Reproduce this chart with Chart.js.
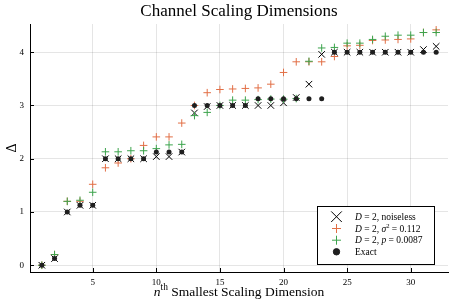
<!DOCTYPE html>
<html><head><meta charset="utf-8">
<script src="https://cdn.jsdelivr.net/npm/chart.js@4/dist/chart.umd.min.js"></script>
<style>html,body{margin:0;padding:0;background:#fff}#wrap{width:457px;height:305px;position:relative}</style>
</head><body><div id="wrap"><canvas id="c" width="457" height="305"></canvas></div>
<script>
// ---- data ----
const nIndex = [1,2,3,4,5,6,7,8,9,10,11,12,13,14,15,16,17,18,19,20,21,22,23,24,25,26,27,28,29,30,31,32];
const noiseless = [0,0.125,1.0,1.125,1.125,2.0,2.0,2.0,2.0,2.04,2.04,2.125,2.86,2.98,3.0,3.0,3.0,3.0,3.0,3.05,3.15,3.40,3.96,4.0,4.0,4.0,4.0,4.0,4.0,4.0,4.05,4.11];
const gaussian = [0,0.2,1.2,1.2,1.52,1.83,1.92,2.0,2.25,2.41,2.41,2.67,3.0,3.24,3.30,3.31,3.32,3.33,3.40,3.62,3.82,3.82,3.82,3.92,4.12,4.13,4.22,4.23,4.24,4.25,4.37,4.42];
const depolar = [0,0.2,1.2,1.22,1.37,2.13,2.13,2.15,2.15,2.19,2.26,2.27,2.81,2.87,3.0,3.10,3.10,3.11,3.12,3.12,3.13,3.83,4.08,4.09,4.17,4.17,4.24,4.30,4.32,4.32,4.37,4.37];
const exact = [0,0.125,1,1.125,1.125,2,2,2,2,2.125,2.125,2.125,3,3,3,3,3,3.125,3.125,3.125,3.125,3.125,3.125,4,4,4,4,4,4,4,4,4];
const xTicks = [5,10,15,20,25,30];
const yTicks = [0,1,2,3,4];
const seriesLabels = ['D = 2, noiseless','D = 2, σ² = 0.112','D = 2, p = 0.0087','Exact'];
const titleText = 'Channel Scaling Dimensions';

const SERIF = '"Liberation Serif", "DejaVu Serif", serif';
const RED = '#e26f46', GREEN = '#3da44d', BLACK = '#000000', DOT = '#1f1f1f';
const fnt = (s, it) => (it ? 'italic ' : '') + s + 'px ' + SERIF;
const toPts = arr => nIndex.map((n, i) => ({x: n, y: arr[i]}));

function drawRich(ctx, parts, x, y, size, align) {
  let w = 0;
  for (const p of parts) { ctx.font = fnt(p.sup ? size * 0.7 : size, p.it); w += ctx.measureText(p.t).width; }
  if (align === 'center') x -= w / 2;
  ctx.textAlign = 'left'; ctx.textBaseline = 'alphabetic';
  for (const p of parts) {
    const s = p.sup ? size * 0.7 : size;
    ctx.font = fnt(s, p.it);
    ctx.fillText(p.t, x, p.sup ? y - size * 0.4 : y);
    x += ctx.measureText(p.t).width;
  }
}

const legendParts = [
  [{t:'D',it:1},{t:' = 2, noiseless'}],
  [{t:'D',it:1},{t:' = 2, '},{t:'σ',it:1},{t:'2',sup:1},{t:' = 0.112'}],
  [{t:'D',it:1},{t:' = 2, '},{t:'p',it:1},{t:' = 0.0087'}],
  [{t:'Exact'}]
];
const legendMarkers = [
  {pointStyle:'crossRot', radius:7.5, color:BLACK},
  {pointStyle:'cross', radius:4.5, color:RED},
  {pointStyle:'cross', radius:4.5, color:GREEN},
  {pointStyle:'circle', radius:3.2, color:DOT}
];

const decor = {
  id: 'decor',
  afterDraw(chart) {
    const ctx = chart.ctx, ca = chart.chartArea;
    const xs = chart.scales.x, ys = chart.scales.y;
    ctx.save();
    // inward ticks
    ctx.strokeStyle = '#000'; ctx.lineWidth = 1;
    ctx.beginPath();
    for (const v of xTicks) { const px = Math.round(xs.getPixelForValue(v)) + 0.5; ctx.moveTo(px, ca.bottom); ctx.lineTo(px, ca.bottom - 4); }
    for (const v of yTicks) { const py = Math.round(ys.getPixelForValue(v)) + 0.5; ctx.moveTo(ca.left, py); ctx.lineTo(ca.left + 4, py); }
    ctx.stroke();
    ctx.fillStyle = '#000';
    const cx = (ca.left + ca.right) / 2;
    // title
    drawRich(ctx, [{t: titleText}], cx, 15.5, 17, 'center');
    // x title
    drawRich(ctx, [{t:'n',it:1},{t:'th',sup:1},{t:' Smallest Scaling Dimension'}], cx, 295.5, 13.5, 'center');
    // legend
    const L = 317, T = 206, W = 117, H = 58;
    ctx.fillStyle = '#fff';
    ctx.fillRect(L, T, W, H);
    ctx.strokeStyle = '#000'; ctx.lineWidth = 1;
    ctx.strokeRect(L + 0.5, T + 0.5, W, H);
    const rowY = [216.7, 228.5, 240.2, 251.8];
    for (let i = 0; i < 4; i++) {
      const m = legendMarkers[i];
      ctx.strokeStyle = m.color; ctx.fillStyle = m.color; ctx.lineWidth = 1;
      Chart.helpers.drawPoint(ctx, {pointStyle: m.pointStyle, radius: m.radius, borderWidth: 1, rotation: 0}, 336.5, rowY[i]);
      ctx.fillStyle = '#000';
      drawRich(ctx, legendParts[i], 355, rowY[i] + 3.2, 9.5, 'left');
    }
    ctx.restore();
  }
};

const tickFont = {family: SERIF, size: 9};
new Chart(document.getElementById('c'), {
  type: 'scatter',
  data: {
    datasets: [
      {label: seriesLabels[0], data: toPts(noiseless), pointStyle: 'crossRot', pointRadius: 4.6, borderColor: BLACK, backgroundColor: BLACK, pointBorderWidth: 1, order: 4},
      {label: seriesLabels[1], data: toPts(gaussian), pointStyle: 'cross', pointRadius: 3.8, borderColor: RED, backgroundColor: RED, pointBorderWidth: 1, order: 3},
      {label: seriesLabels[2], data: toPts(depolar), pointStyle: 'cross', pointRadius: 3.8, borderColor: GREEN, backgroundColor: GREEN, pointBorderWidth: 1, order: 2},
      {label: seriesLabels[3], data: toPts(exact), pointStyle: 'circle', pointRadius: 2.5, borderColor: DOT, backgroundColor: DOT, pointBorderWidth: 0, order: 1}
    ]
  },
  options: {
    responsive: false, animation: false, devicePixelRatio: 1,
    layout: {padding: {top: 24, right: 9, left: 0, bottom: 0}},
    plugins: {legend: {display: false}, tooltip: {enabled: false}, title: {display: false}},
    scales: {
      x: {
        type: 'linear', min: 0.07, max: 32.93,
        afterBuildTicks: s => { s.ticks = xTicks.map(v => ({value: v})); },
        afterFit: s => { s.height = 33; },
        grid: {color: 'rgba(0,0,0,0.1)', drawTicks: false},
        border: {display: true, color: '#000', width: 1},
        ticks: {font: tickFont, color: '#000', padding: 5, maxRotation: 0, autoSkip: false}
      },
      y: {
        type: 'linear', min: -0.127, max: 4.53,
        afterBuildTicks: s => { s.ticks = yTicks.map(v => ({value: v})); },
        afterFit: s => { s.width = 30; },
        grid: {color: 'rgba(0,0,0,0.1)', drawTicks: false},
        border: {display: true, color: '#000', width: 1},
        ticks: {font: tickFont, color: '#000', padding: 6, autoSkip: false},
        title: {display: true, text: 'Δ', font: {family: SERIF, size: 14}, color: '#000', padding: {top: 4, bottom: 0}}
      }
    }
  },
  plugins: [decor]
});
</script></body></html>
